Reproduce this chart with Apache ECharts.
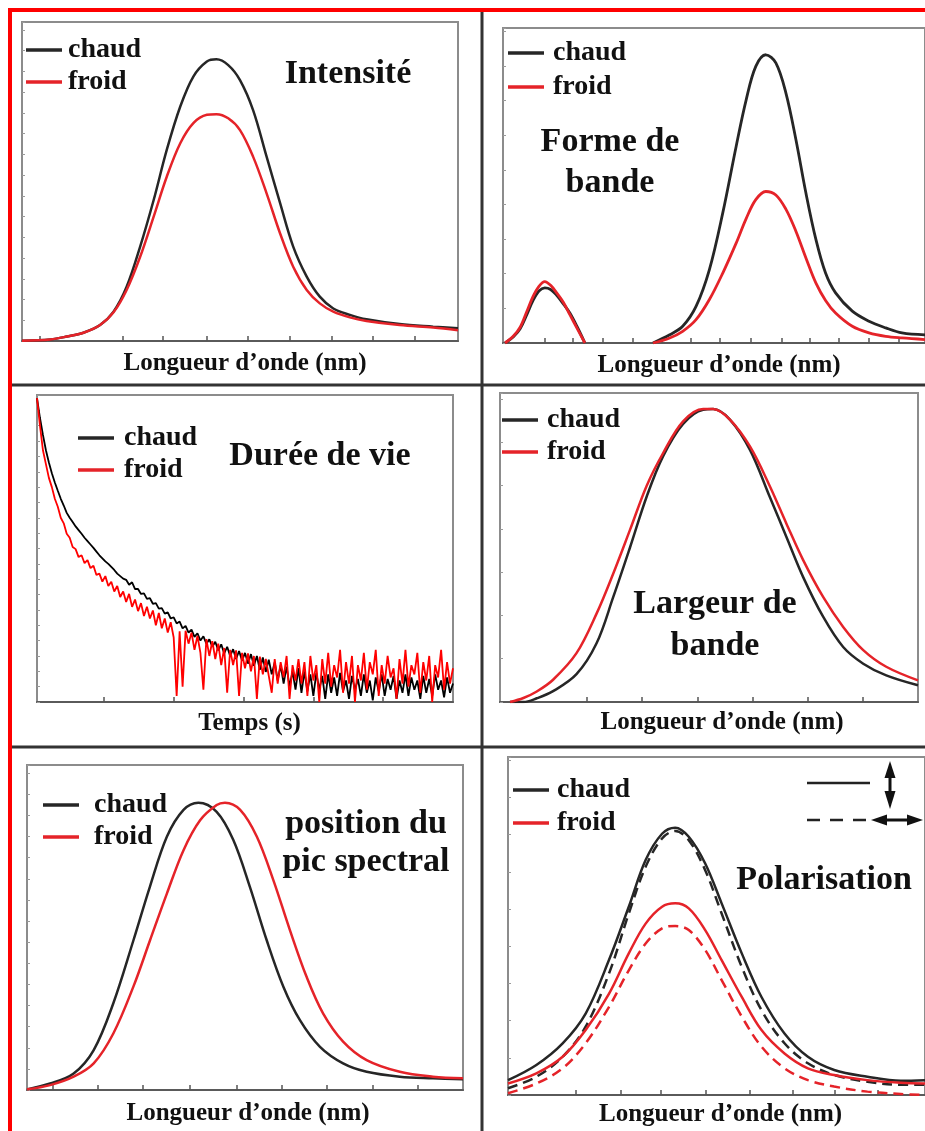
<!DOCTYPE html>
<html><head><meta charset="utf-8">
<script src="https://cdn.jsdelivr.net/npm/echarts@6/dist/echarts.min.js"></script>
<style>html,body{margin:0;padding:0;background:#fff}#c{width:925px;height:1131px}</style>
</head><body><div id="c"></div>
<script>
// ---------- DATA ----------
const legendNames = ['chaud', 'froid'];
const panelTitles = ['Intensité', 'Forme de\nbande', 'Durée de vie', 'Largeur de\nbande', 'position du\npic spectral', 'Polarisation'];
const axisNames = ['Longueur d\u2019onde (nm)', 'Longueur d\u2019onde (nm)', 'Temps (s)', 'Longueur d\u2019onde (nm)', 'Longueur d\u2019onde (nm)', 'Longueur d\u2019onde (nm)'];

// Panel 1 : Intensité
const intensityX = [0, 6.5, 10.3, 14.1, 17.9, 21, 24, 27.1, 30.2, 33.2, 36.3, 39.3, 42.4, 44.6, 47.3, 50, 53, 56.1, 59.2, 62.2, 65.3, 68.3, 71.4, 75.2, 79, 86.6, 94.3, 100];
const intensityChaud = [0.001, 0.005, 0.014, 0.026, 0.05, 0.092, 0.17, 0.296, 0.442, 0.599, 0.735, 0.829, 0.876, 0.883, 0.865, 0.818, 0.724, 0.578, 0.432, 0.296, 0.202, 0.139, 0.102, 0.082, 0.068, 0.053, 0.045, 0.04];
const intensityFroid = [0.001, 0.005, 0.014, 0.026, 0.05, 0.09, 0.16, 0.264, 0.39, 0.515, 0.62, 0.683, 0.709, 0.711, 0.698, 0.661, 0.578, 0.463, 0.337, 0.233, 0.16, 0.118, 0.092, 0.074, 0.063, 0.05, 0.042, 0.034];

// Panel 2 : Forme de bande (null = gap between the two bands)
const formeX = [0.5, 2.5, 4.1, 5.7, 7.2, 8.6, 10, 11.4, 12.8, 14.4, 16, 17.8, 19.6, 27, 35.9, 39.9, 43, 46.2, 49.4, 52.6, 55.8, 58.2, 60.5, 62.9, 65.3, 67.7, 70.1, 72.5, 74.9, 77.2, 79.6, 83.6, 87.6, 91.6, 95.5, 101];
const formeChaud = [0, 0.02, 0.045, 0.09, 0.135, 0.165, 0.175, 0.17, 0.152, 0.125, 0.095, 0.05, 0, null, 0, 0.026, 0.053, 0.116, 0.233, 0.413, 0.624, 0.772, 0.878, 0.915, 0.889, 0.794, 0.646, 0.476, 0.328, 0.222, 0.159, 0.101, 0.069, 0.048, 0.032, 0.026];
const formeFroid = [0, 0.022, 0.05, 0.1, 0.148, 0.18, 0.195, 0.183, 0.16, 0.13, 0.09, 0.045, 0, null, 0, 0.016, 0.037, 0.074, 0.138, 0.222, 0.317, 0.395, 0.455, 0.481, 0.47, 0.425, 0.355, 0.27, 0.19, 0.135, 0.095, 0.053, 0.032, 0.021, 0.016, 0.011];

// Panel 3 : Durée de vie
const dureeT = [0,1,2,3,4,5,6,7,8,9,10,11,12,13,14,15,16,17,18,19,20,21,22,23,24,25,26,27,28,29,30,31,32,33,34,35,36,37,38,39,40,41,42,43,44,45,46,47,48,49,50,51,52,53,54,55,56,57,58,59,60,61,62,63,64,65,66,67,68,69,70,71,72,73,74,75,76,77,78,79,80,81,82,83,84,85,86,87,88,89,90,91,92,93,94,95,96,97,98,99,100,101,102,103,104,105,106,107,108,109,110,111,112,113,114,115,116,117,118,119,120,121,122,123,124,125,126,127,128,129,130,131,132,133,134,135,136,137,138,139,140];
const dureeChaud = [
  0.99, 0.925, 0.87, 0.82, 0.78, 0.745, 0.715, 0.688, 0.662, 0.64,
  0.616, 0.6, 0.586, 0.572, 0.56, 0.548, 0.535, 0.524, 0.513, 0.502,
  0.49, 0.478, 0.468, 0.458, 0.45, 0.44, 0.43, 0.418, 0.41, 0.402,
  0.398, 0.382, 0.39, 0.368, 0.368, 0.352, 0.354, 0.336, 0.338, 0.32,
  0.322, 0.304, 0.306, 0.288, 0.292, 0.272, 0.276, 0.256, 0.262, 0.24,
  0.248, 0.226, 0.236, 0.212, 0.224, 0.2, 0.214, 0.19, 0.204, 0.18,
  0.196, 0.168, 0.188, 0.158, 0.18, 0.15, 0.172, 0.14, 0.166, 0.135,
  0.16, 0.125, 0.156, 0.118, 0.15, 0.105, 0.145, 0.098, 0.138, 0.09,
  0.13, 0.07, 0.12, 0.06, 0.115, 0.05, 0.1, 0.04, 0.11, 0.03,
  0.1, 0.035, 0.09, 0.02, 0.095, 0.04, 0.085, 0.01, 0.09, 0.03,
  0.08, 0.02, 0.095, 0.035, 0.07, 0.01, 0.085, 0.04, 0.075, 0.02,
  0.09, 0.03, 0.07, 0.005, 0.08, 0.035, 0.09, 0.02, 0.075, 0.04,
  0.085, 0.01, 0.07, 0.03, 0.09, 0.02, 0.08, 0.04, 0.07, 0.01,
  0.085, 0.03, 0.075, 0.02, 0.09, 0.04, 0.07, 0.015, 0.08, 0.03,
  0.06];
const dureeFroid = [
  0.99, 0.9, 0.82, 0.775, 0.73, 0.7, 0.662, 0.636, 0.6, 0.582,
  0.548, 0.535, 0.505, 0.498, 0.472, 0.478, 0.452, 0.462, 0.436, 0.444,
  0.414, 0.418, 0.392, 0.41, 0.378, 0.392, 0.36, 0.378, 0.342, 0.36,
  0.326, 0.352, 0.31, 0.334, 0.296, 0.322, 0.28, 0.31, 0.272, 0.298,
  0.25, 0.29, 0.24, 0.272, 0.226, 0.26, 0.21, 0.02, 0.23, 0.05,
  0.232, 0.19, 0.226, 0.17, 0.215, 0.16, 0.04, 0.205, 0.15, 0.198,
  0.14, 0.19, 0.12, 0.176, 0.03, 0.17, 0.12, 0.168, 0.02, 0.16,
  0.11, 0.158, 0.1, 0.15, 0.01, 0.148, 0.09, 0.14, 0.085, 0.03,
  0.14, 0.06, 0.13, 0.08, 0.15, 0.01, 0.12, 0.07, 0.14, 0.06,
  0.13, 0.02, 0.15, 0.07, 0.12, 0.0, 0.14, 0.06, 0.16, 0.05,
  0.12, 0.08, 0.17, 0.03, 0.13, 0.06, 0.15, 0.0, 0.12, 0.07,
  0.16, 0.04, 0.13, 0.09, 0.17, 0.02, 0.12, 0.06, 0.15, 0.08,
  0.11, 0.01, 0.14, 0.06, 0.17, 0.05, 0.12, 0.09, 0.16, 0.03,
  0.13, 0.07, 0.15, 0.0, 0.12, 0.08, 0.17, 0.04, 0.13, 0.06,
  0.11];

// Panel 4 : Largeur de bande
const largeurX = [2.4, 5.6, 8.8, 12.7, 18.3, 23.1, 27.1, 31.1, 35.1, 39, 43.8, 48.6, 51, 55, 59.8, 64.5, 68.5, 72.5, 77.3, 82.1, 86.9, 92.4, 100];
const largeurChaud = [0, 0, 0.012, 0.035, 0.09, 0.19, 0.34, 0.5, 0.665, 0.795, 0.9, 0.946, 0.948, 0.914, 0.816, 0.665, 0.535, 0.405, 0.276, 0.178, 0.124, 0.086, 0.054];
const largeurFroid = [0, 0.013, 0.034, 0.072, 0.158, 0.286, 0.416, 0.557, 0.7, 0.805, 0.908, 0.948, 0.948, 0.914, 0.827, 0.7, 0.578, 0.46, 0.34, 0.243, 0.168, 0.114, 0.07];

// Panel 5 : position du pic spectral
const positionXChaud = [0, 5.3, 10.7, 15.3, 19.8, 24.4, 28.2, 32.1, 35.9, 39.3, 43.5, 47.3, 51.1, 55, 58.8, 62.6, 67.2, 72.5, 77.9, 85.5, 93.1, 100];
const positionChaud = [0.002, 0.02, 0.051, 0.123, 0.267, 0.46, 0.626, 0.78, 0.862, 0.884, 0.856, 0.77, 0.626, 0.46, 0.318, 0.215, 0.133, 0.082, 0.056, 0.041, 0.036, 0.033];
const positionXFroid = [0, 5.3, 10.7, 15.3, 19.8, 24.4, 28.2, 32.1, 35.9, 39.7, 43.5, 45.4, 48.9, 52.7, 56.5, 60.3, 64.1, 67.9, 72.5, 77.9, 85.5, 93.1, 100];
const positionFroid = [0.002, 0.015, 0.041, 0.082, 0.174, 0.318, 0.46, 0.605, 0.738, 0.83, 0.877, 0.884, 0.862, 0.78, 0.646, 0.492, 0.349, 0.236, 0.149, 0.092, 0.056, 0.041, 0.036];

// Panel 6 : Polarisation (solid = vertical, dashed = horizontal)
const polarX = [0, 6.9, 13.3, 18.9, 24.6, 29.4, 33.5, 37.5, 40.7, 44, 48, 52, 56.9, 61.7, 67.3, 73, 79.4, 87.5, 95.6, 101.5];
const polarChaudV = [0.044, 0.089, 0.153, 0.241, 0.4, 0.557, 0.695, 0.773, 0.791, 0.764, 0.685, 0.567, 0.419, 0.29, 0.182, 0.113, 0.074, 0.054, 0.042, 0.044];
const polarChaudH = [0.02, 0.054, 0.113, 0.202, 0.36, 0.537, 0.675, 0.759, 0.781, 0.754, 0.665, 0.537, 0.379, 0.251, 0.153, 0.094, 0.059, 0.039, 0.03, 0.03];
const polarFroidV = [0.034, 0.064, 0.113, 0.192, 0.3, 0.419, 0.507, 0.557, 0.567, 0.552, 0.488, 0.399, 0.29, 0.192, 0.123, 0.079, 0.059, 0.044, 0.036, 0.034];
const polarFroidH = [0.005, 0.034, 0.079, 0.153, 0.261, 0.369, 0.448, 0.493, 0.5, 0.488, 0.429, 0.34, 0.232, 0.143, 0.079, 0.044, 0.025, 0.01, 0.003, 0];

// Tick positions on the bottom axes
const xTicks = [
  [4.1, 23.2, 32.3, 42.4, 51.8, 61.5, 71.1, 80.5, 90.1],
  [10, 16.7, 23.9, 31, 37.9, 45, 51.8, 59.4, 66.6, 73.3, 80.4, 87.6, 94.7],
  [22.5, 46, 69.5, 93, 116.5],
  [20.8, 34, 47.4, 60.5, 73.7, 86.8],
  [6, 16.3, 26.6, 37.4, 48.2, 58.5, 68.8, 79.4, 89.7],
  [16.6, 27.5, 37.3, 48.2, 58.8, 69.2, 79.5, 90.1]
];

// ---------- LAYOUT ----------
const SERIF = "'Liberation Serif', 'Times New Roman', serif";
const BLACK = '#262626', RED = '#e52329';
const panels = [
  {left: 22, top: 22, width: 436, height: 319, xMax: 100, yInt: 0.065, gap: 10.5, pad: 10, lL: 26, lT: 34, lG: 0, lP: 1, tx: 348, ty: 74, lh: 40},
  {left: 503, top: 28, width: 424, height: 315, xMax: 101, yInt: 0.11, gap: 10, pad: 10, lL: 508, lT: 37, lG: 2, lP: 4, tx: 610, ty: 162.5, lh: 41.5},
  {left: 37, top: 395, width: 416, height: 307, xMax: 140, yInt: 0.05, gap: 9.5, pad: 9, lL: 78, lT: 422, lG: 0, lP: 5, tx: 320, ty: 456.5, lh: 40},
  {left: 500, top: 393, width: 418, height: 309, xMax: 100, yInt: 0.14, gap: 8, pad: 26, lL: 502, lT: 404, lG: 0, lP: 4, tx: 715, ty: 625.5, lh: 42},
  {left: 27, top: 765, width: 436, height: 325, xMax: 100, yInt: 0.065, gap: 11, pad: 6, lL: 43, lT: 789, lG: 0, lP: 10, tx: 366, ty: 843.5, lh: 38},
  {left: 508, top: 757, width: 420, height: 338, xMax: 101.5, yInt: 0.11, gap: 7.5, pad: 8, lL: 513, lT: 774, lG: 1, lP: 3, tx: 824, ty: 880.5, lh: 40}
];

function pairs(xs, ys) { return xs.map((x, i) => [x, ys[i] == null ? '-' : ys[i]]); }
function line(name, gi, data, color, width, dash, smooth) {
  return {
    type: 'line', name: name, xAxisIndex: gi, yAxisIndex: gi, data: data,
    symbol: 'none', smooth: smooth === undefined ? 0.35 : smooth, connectNulls: false,
    color: color, itemStyle: {color: color},
    lineStyle: {color: color, width: width, type: dash || 'solid'},
    silent: true, animation: false
  };
}

const series = [
  line('chaud', 0, pairs(intensityX, intensityChaud), BLACK, 2.5),
  line('froid', 0, pairs(intensityX, intensityFroid), RED, 2.5),
  line('chaud', 1, pairs(formeX, formeChaud), BLACK, 2.8),
  line('froid', 1, pairs(formeX, formeFroid), RED, 2.8),
  line('chaud', 2, pairs(dureeT, dureeChaud), '#000000', 1.8, null, false),
  line('froid', 2, pairs(dureeT, dureeFroid), '#ff0000', 1.8, null, false),
  line('chaud', 3, pairs(largeurX, largeurChaud), BLACK, 2.5),
  line('froid', 3, pairs(largeurX, largeurFroid), RED, 2.5),
  line('chaud', 4, pairs(positionXChaud, positionChaud), BLACK, 2.5),
  line('froid', 4, pairs(positionXFroid, positionFroid), RED, 2.5),
  line('chaud', 5, pairs(polarX, polarChaudV), BLACK, 2.5),
  line('chaud \u2194', 5, pairs(polarX, polarChaudH), BLACK, 2.5, [10, 6]),
  line('froid', 5, pairs(polarX, polarFroidV), RED, 2.5),
  line('froid \u2194', 5, pairs(polarX, polarFroidH), RED, 2.5, [10, 6])
];

const graphics = [];
// dividers
graphics.push({type: 'line', shape: {x1: 482, y1: 12, x2: 482, y2: 1131}, style: {stroke: '#333', lineWidth: 3}});
graphics.push({type: 'line', shape: {x1: 12, y1: 385, x2: 925, y2: 385}, style: {stroke: '#333', lineWidth: 3}});
graphics.push({type: 'line', shape: {x1: 12, y1: 747, x2: 925, y2: 747}, style: {stroke: '#333', lineWidth: 3}});
// red frame
graphics.push({type: 'rect', shape: {x: 8, y: 8, width: 917, height: 4}, style: {fill: '#ff0000'}});
graphics.push({type: 'rect', shape: {x: 8, y: 8, width: 4, height: 1123}, style: {fill: '#ff0000'}});
// titles
panels.forEach((p, i) => {
  graphics.push({type: 'text', x: p.tx, y: p.ty, style: {
    text: panelTitles[i], fill: '#111', font: 'bold 34px ' + SERIF,
    textAlign: 'center', textVerticalAlign: 'middle', align: 'center', verticalAlign: 'middle', lineHeight: p.lh}});
});
// polarisation key (solid = vertical, dashed = horizontal)
graphics.push({type: 'line', shape: {x1: 807, y1: 783, x2: 870, y2: 783}, style: {stroke: '#222', lineWidth: 2.5}});
graphics.push({type: 'line', shape: {x1: 807, y1: 820, x2: 868, y2: 820}, style: {stroke: '#222', lineWidth: 2.5, lineDash: [13, 10]}});
graphics.push({type: 'polygon', shape: {points: [[890, 761], [884.5, 778], [895.5, 778]]}, style: {fill: '#111'}});
graphics.push({type: 'rect', shape: {x: 888.5, y: 776, width: 3, height: 17}, style: {fill: '#111'}});
graphics.push({type: 'polygon', shape: {points: [[890, 809], [884.5, 791], [895.5, 791]]}, style: {fill: '#111'}});
graphics.push({type: 'polygon', shape: {points: [[871, 820], [887, 814.5], [887, 825.5]]}, style: {fill: '#111'}});
graphics.push({type: 'rect', shape: {x: 885, y: 818.5, width: 24, height: 3}, style: {fill: '#111'}});
graphics.push({type: 'polygon', shape: {points: [[923, 820], [907, 814.5], [907, 825.5]]}, style: {fill: '#111'}});

const option = {
  backgroundColor: '#ffffff',
  animation: false,
  grid: panels.map(p => ({left: p.left, top: p.top, width: p.width, height: p.height, show: true, borderColor: '#8c8c8c', borderWidth: 2, backgroundColor: 'transparent'})),
  xAxis: panels.map((p, i) => ({
    type: 'value', gridIndex: i, min: 0, max: p.xMax,
    name: axisNames[i], nameLocation: 'middle', nameGap: p.gap,
    nameTextStyle: {fontFamily: SERIF, fontWeight: 'bold', fontSize: 25, color: '#111', padding: [0, 0, 0, p.pad]},
    axisLine: {show: true, onZero: false, lineStyle: {color: '#5a5a5a', width: 2}},
    axisTick: {show: true, inside: true, length: 5, customValues: xTicks[i], lineStyle: {color: '#555', width: 1.5}},
    axisLabel: {show: false}, splitLine: {show: false}
  })),
  yAxis: panels.map((p, i) => ({
    type: 'value', gridIndex: i, min: 0, max: 1, interval: p.yInt,
    axisLine: {show: true, onZero: false, lineStyle: {color: '#8c8c8c', width: 2}},
    axisTick: {show: true, inside: true, length: 3, lineStyle: {color: '#9a9a9a', width: 1}},
    axisLabel: {show: false}, splitLine: {show: false}
  })),
  legend: panels.map(p => ({
    data: legendNames, orient: 'vertical', left: p.lL, top: p.lT, padding: 0, itemGap: p.lG,
    icon: 'rect', itemWidth: 36, itemHeight: 3.5, selectedMode: false,
    textStyle: {fontFamily: SERIF, fontWeight: 'bold', fontSize: 28, color: '#111', lineHeight: 26, padding: [0, 0, 6, p.lP]}
  })),
  series: series,
  graphic: {elements: graphics}
};

const chart = echarts.init(document.getElementById('c'), null, {renderer: 'canvas'});
chart.setOption(option);
</script></body></html>
